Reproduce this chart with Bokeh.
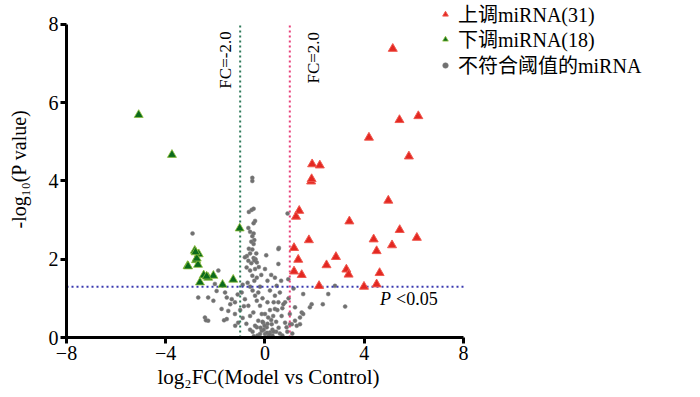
import math
from bokeh.plotting import figure
from bokeh.models import Label, Legend, LegendItem, Range1d, FixedTicker, Title
from bokeh.embed import file_html
from bokeh.resources import INLINE

# ---------------- data ----------------
up_x = [5.15, 5.42, 6.18, 4.19, 5.80, 1.90, 2.21, 1.86, 1.88, 4.97, 1.38, 1.25, 3.40, 5.43, 6.12, 1.77,
        4.38, 1.17, 5.12, 4.50, 1.34, 2.86, 2.48, 1.17, 1.48, 3.28, 3.37, 4.62, 2.18, 3.99, 4.50]
up_y = [7.38, 5.56, 5.66, 5.11, 4.63, 4.43, 4.40, 3.99, 4.05, 3.50, 3.24, 3.09, 2.97, 2.75, 2.55, 2.49,
        2.51, 2.29, 2.36, 2.21, 1.99, 2.06, 1.85, 1.69, 1.60, 1.74, 1.61, 1.65, 1.32, 1.30, 1.36]

down_x = [-5.09, -3.75, -1.02, -2.83, -2.67, -2.78, -2.70, -3.12, -3.10, -2.47, -2.29, -2.08, -2.62,
          -1.71, -1.28, -2.75, -2.35, -2.80]
down_y = [5.69, 4.67, 2.79, 2.22, 2.13, 1.98, 1.86, 1.83, 1.82, 1.59, 1.53, 1.58, 1.41,
          1.35, 1.48, 2.02, 1.56, 2.18]

ns_x = [-0.51, -0.51, -0.65, -0.54, -0.46, -0.40, -0.46, -0.67, -0.46, -0.51, -0.43, -0.46, -0.65, -0.51,
        -0.73, -0.46, -0.38, 0.91, 0.56, -2.92, -0.81, -0.67, -0.43, -0.33, -0.74, -0.60, -0.40, -0.51,
        -0.33, -0.43, 0.40, 0.54, -1.88, -2.02, -2.69, -2.29, -2.08, -1.61, -1.54, -1.75, -1.48, -1.54,
        -1.21, -1.08, -2.42, -2.29, -1.34, -1.21, -0.94, -0.81, -0.67, -0.60, -0.47, -0.40, -0.33, -0.27,
        -0.20, -0.13, -0.27, -0.07, -0.33, -0.13, 0.07, 0.00, -0.20, 0.20, 0.27, 0.13, 0.33, 0.40, 0.54,
        0.40, 0.60, 0.67, 0.81, 0.87, 1.08, 1.28, 1.41, 1.48, 0.81, 0.47, 0.54, 0.94, 1.54, 1.88, 1.81,
        2.33, 2.55, 3.23, 2.82, 1.54, 1.41, 1.21, 1.01, 1.21, 0.74, -1.95, -2.38, -1.65,
        -0.60, -0.50, -0.70, -0.20, -0.10, 0.10, 0.20, 0.00, -0.10, 0.10, 0.30, -0.40, -0.50, 0.15, -0.05,
        0.25, 0.45, 0.55, 0.60, -0.30, -0.60, -0.75, -0.90, -1.00, -0.85, 0.35, 0.20, 0.10, -0.15, 0.00,
        -0.25, -0.55, -0.60, -0.35, -0.55, -0.60, 0.30, 0.45, 0.70, 0.90, 1.10, -1.20, -1.40, -1.10, -0.90,
        0.70, 1.00, 0.95, 1.15, 0.65, 0.25, 0.05, -0.02, 0.08, -0.18, 0.18, 0.35, -0.45, 0.50, -0.28]
ns_y = [4.08, 4.00, 3.21, 3.26, 3.29, 2.98, 2.92, 2.80, 2.66, 2.59, 2.49, 2.39, 2.27, 2.25,
        2.08, 2.03, 2.00, 3.17, 2.29, 2.66, 2.05, 1.96, 1.97, 1.92, 1.79, 1.71, 1.75, 1.58,
        1.53, 1.45, 1.53, 1.88, 1.71, 1.37, 1.02, 1.02, 0.94, 1.15, 1.02, 0.73, 0.68, 0.47,
        0.60, 0.38, 0.51, 0.43, 0.98, 0.90, 1.15, 0.98, 0.81, 0.55, 0.64, 1.07, 0.94, 1.15,
        0.81, 0.60, 0.43, 0.38, 0.26, 0.17, 0.26, 0.09, 0.09, 0.13, 0.34, 0.51, 0.55, 0.73, 0.90,
        1.07, 1.15, 0.55, 0.38, 0.26, 0.34, 0.30, 0.34, 0.64, 0.90, 1.32, 2.26, 1.49, 1.11, 0.85, 0.77,
        0.85, 1.11, 0.79, 1.32, 0.60, 0.51, 0.43, 0.34, 0.77, 0.85, 1.19, 0.44, 0.44,
        1.30, 1.20, 1.40, 1.30, 1.00, 0.90, 0.70, 0.60, 0.40, 0.35, 0.20, 0.30, 0.15, 0.05, 0.20,
        0.45, 0.40, 0.25, 0.10, 0.05, 0.20, 0.35, 0.50, 0.70, 0.80, 0.90, 1.20, 1.45, 1.60, 1.75,
        1.80, 1.90, 2.15, 2.15, 2.45, 2.70, 0.05, 0.15, 0.05, 0.15, 0.10, 0.30, 0.85, 1.10, 1.35,
        0.75, 0.60, 1.00, 1.25, 1.45, 1.60, 2.10, 0.30, 0.12, 0.25, 0.08, 0.15, 0.03, 0.70, 0.02]

x_ticks = [-8, -4, 0, 4, 8]
y_ticks = [0, 2, 4, 6, 8]
x_bounds = (-8, 8)
y_bounds = (0, 8)
fc_lines = [-1.0, 1.0]
p_line = 1.3

legend_labels = ["上调miRNA(31)", "下调miRNA(18)", "不符合阈值的miRNA"]
x_title = "log₂FC(Model vs Control)"
y_title = "-log₁₀(P value)"

SERIF = "Liberation Serif, Noto Sans CJK SC"

# ---------------- figure ----------------
# frame extends beyond the axis bounds so that the legend (top-right) is drawn inside it
p = figure(width=698, height=395, output_backend="svg", toolbar_location=None,
           x_range=Range1d(-8, 17.15), y_range=Range1d(0, 8.613),
           min_border_left=66, min_border_right=8, min_border_top=0, min_border_bottom=58)
p.outline_line_color = None
p.xgrid.visible = False
p.ygrid.visible = False
p.background_fill_color = "white"
p.border_fill_color = "white"

for ax, ticks, bnds in ((p.xaxis[0], x_ticks, x_bounds), (p.yaxis[0], y_ticks, y_bounds)):
    ax.ticker = FixedTicker(ticks=ticks)
    ax.bounds = bnds
    ax.minor_tick_line_color = None
    ax.axis_line_width = 3
    ax.major_tick_line_width = 3
    ax.major_tick_out = 6
    ax.major_tick_in = 0
    ax.major_label_text_font = SERIF
    ax.major_label_text_font_size = "20px"
    ax.major_label_text_color = "black"
    ax.axis_line_color = "black"
    ax.major_tick_line_color = "black"
    ax.axis_label_text_font = SERIF
    ax.axis_label_text_font_size = "20px"
    ax.axis_label_text_font_style = "normal"
    ax.axis_label_text_color = "black"
p.xaxis.major_label_standoff = 2
p.yaxis.major_label_standoff = 2
p.yaxis.axis_label = y_title
p.yaxis.axis_label_standoff = 16

# x title, left-aligned under the bounded axis so it is centred on x = 0
p.add_layout(Title(text=x_title, align="left", offset=91, standoff=0, text_font=SERIF,
                   text_font_size="21px", text_font_style="normal", text_color="black"), "below")

r_ns = p.scatter(ns_x, ns_y, marker="circle", size=4, fill_color="#707070", line_color="#808080",
                 line_width=0.5)

# threshold lines
for loc, col in zip(fc_lines, ["#2f7a5a", "#e8407a"]):
    p.segment(x0=[loc], y0=[y_bounds[0]], x1=[loc], y1=[y_bounds[1]], line_color=col, line_width=2,
              line_dash="2 3")
p.segment(x0=[x_bounds[0]], y0=[p_line], x1=[x_bounds[1]], y1=[p_line], line_color="#3a3ab0",
          line_width=2, line_dash="2 3")

r_up = p.scatter(up_x, up_y, marker="triangle", size=9, fill_color="#e32822", line_color="#f05a50",
                 line_width=1)
r_down = p.scatter(down_x, down_y, marker="triangle", size=9, fill_color="#0b6a1c", line_color="#8fbf3a",
                   line_width=0.8)

# ---------------- texts ----------------
def lab(**kw):
    kw.setdefault("text_font", SERIF)
    kw.setdefault("text_color", "black")
    p.add_layout(Label(**kw))

lab(x=-1.61, y=6.36, text="FC=-2.0", angle=math.pi / 2, text_align="left",
    text_baseline="middle", text_font_size="17px")
lab(x=1.94, y=6.49, text="FC=2.0", angle=math.pi / 2, text_align="left",
    text_baseline="middle", text_font_size="17px")
lab(x=4.64, y=0.99, text="P", text_align="left", text_baseline="middle",
    text_font_style="italic", text_font_size="18px")
lab(x=5.28, y=0.99, text="<0.05", text_align="left", text_baseline="middle", text_font_size="18px")

# ---------------- legend (one row per legend for exact row positions) ----------------
for label, rend, yloc in zip(legend_labels, [r_up, r_down, r_ns], [309, 284, 258]):
    lg = Legend(items=[LegendItem(label=label, renderers=[rend])],
                location=(372, yloc), orientation="vertical",
                label_text_font=SERIF, label_text_font_size="20px", label_text_color="black",
                glyph_width=14, glyph_height=20, label_height=20, spacing=0,
                label_standoff=6, padding=0, margin=0,
                border_line_color=None, background_fill_alpha=0)
    p.add_layout(lg, "center")

open("out.html", "w").write(file_html(p, INLINE))
